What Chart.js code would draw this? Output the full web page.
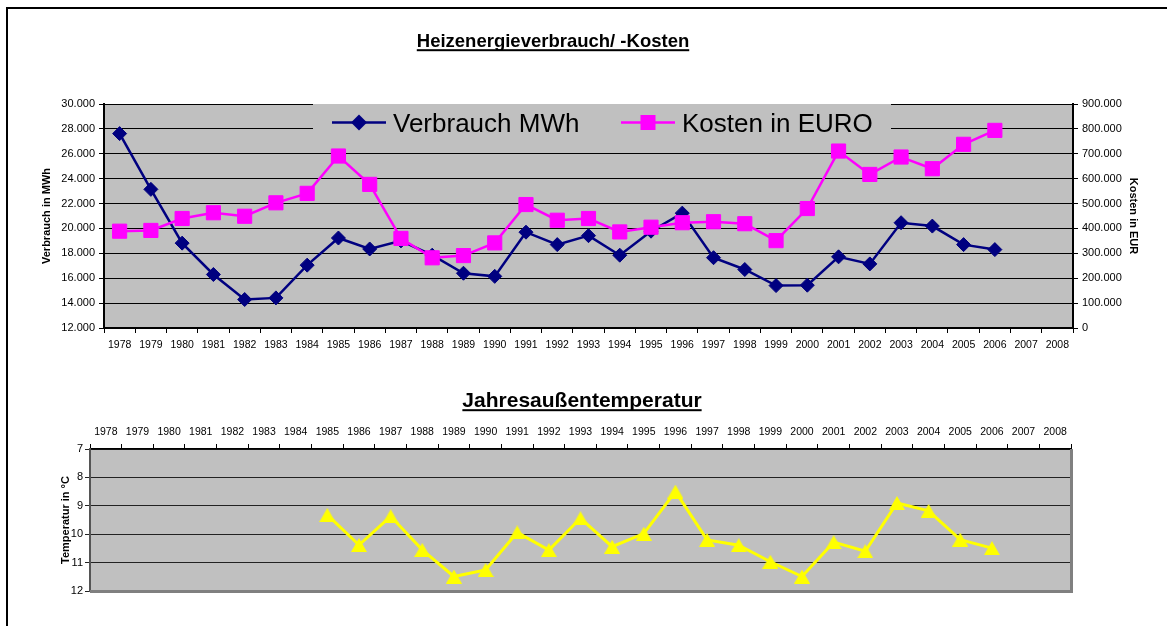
<!DOCTYPE html>
<html>
<head>
<meta charset="utf-8">
<script src="https://cdn.jsdelivr.net/npm/chart.js@4.4.1/dist/chart.umd.min.js"></script>
<style>
  html, body { margin: 0; padding: 0; background: #fff; }
  body { width: 1167px; height: 626px; position: relative; overflow: hidden; }
  #frame { position: absolute; left: 6px; top: 7px; right: -10px; bottom: -10px;
           border-left: 2px solid #000; border-top: 2px solid #000; }
  canvas { position: absolute; left: 0; }
  #cTop { top: 0; }
  #cTemp { top: 365px; }
</style>
</head>
<body>
<div id="frame"></div>
<canvas id="cTop" width="1167" height="365"></canvas>
<canvas id="cTemp" width="1167" height="261"></canvas>
<script>
// Jahre (Kategorien)
const years = ['1978', '1979', '1980', '1981', '1982', '1983', '1984', '1985', '1986', '1987',
  '1988', '1989', '1990', '1991', '1992', '1993', '1994', '1995', '1996', '1997', '1998',
  '1999', '2000', '2001', '2002', '2003', '2004', '2005', '2006', '2007', '2008'];

// Verbrauch in MWh
const verbrauch = [27620, 23140, 18820, 16300, 14290, 14420, 17050, 19230, 18350, 19000,
  17850, 16400, 16150, 19700, 18700, 19420, 17850, 19780, 21230, 17650, 16700,
  15410, 15440, 17720, 17150, 20460, 20190, 18700, 18300, null, null];

// Kosten in EUR
const kosten = [389000, 392000, 440000, 463000, 449000, 503000, 541000, 691000, 577000, 360000,
  282000, 291000, 342000, 496000, 433000, 440000, 386000, 405000, 423000, 427000, 419000,
  351000, 480000, 711000, 617000, 687000, 640000, 738000, 794000, null, null];

// Jahresaussentemperatur in Grad C
const temperatur = [null, null, null, null, null, null, null, 9.32, 10.38, 9.37,
  10.55, 11.49, 11.26, 9.94, 10.56, 9.44, 10.44, 9.98, 8.5, 10.2, 10.39,
  10.97, 11.49, 10.28, 10.6, 8.9, 9.18, 10.19, 10.49, null, null];

const FONT = "'Liberation Sans', Arial, sans-serif";
const PLOT_BG = '#C0C0C0';
const NAVY = '#000080';
const MAGENTA = '#FF00FF';
const YELLOW = '#FFFF00';

Chart.defaults.font.family = FONT;
Chart.defaults.color = '#000';

// Tausenderpunkt wie im Original (30.000)
function fmt(v) {
  return String(v).replace(/\B(?=(\d{3})+(?!\d))/g, '.');
}

// grauer Hintergrund der Zeichenflaeche
const plotBg = {
  id: 'plotBg',
  beforeDraw(chart) {
    const { ctx, chartArea: a } = chart;
    ctx.save();
    ctx.fillStyle = PLOT_BG;
    ctx.fillRect(a.left, a.top, a.right - a.left, a.bottom - a.top);
    ctx.restore();
  }
};

// unterstrichener Titel
function underlinedTitle(text, cx, baseline, size) {
  return {
    id: 'ulTitle',
    afterDraw(chart) {
      const ctx = chart.ctx;
      ctx.save();
      ctx.font = 'bold ' + size + 'px ' + FONT;
      ctx.fillStyle = '#000';
      ctx.textAlign = 'center';
      ctx.textBaseline = 'alphabetic';
      ctx.fillText(text, cx, baseline);
      const w = ctx.measureText(text).width;
      ctx.fillRect(cx - w / 2, baseline + 2.5, w, 2);
      ctx.restore();
    }
  };
}

// Legende im Diagramm, verdeckt die Gitterlinien
const legendBox = {
  id: 'legendBox',
  beforeDatasetsDraw(chart) {
    const ctx = chart.ctx;
    ctx.save();
    ctx.fillStyle = PLOT_BG;
    ctx.fillRect(313, 104, 578, 42);
    const y = 122.5;
    const xs = [332, 621];
    chart.data.datasets.forEach((ds, i) => {
      const x = xs[i];
      ctx.strokeStyle = ds.borderColor;
      ctx.lineWidth = 2.5;
      ctx.beginPath();
      ctx.moveTo(x, y);
      ctx.lineTo(x + 54, y);
      ctx.stroke();
      ctx.fillStyle = ds.borderColor;
      const mx = x + 27;
      ctx.beginPath();
      if (ds.pointStyle === 'rectRot') {
        ctx.moveTo(mx - 8, y);
        ctx.lineTo(mx, y - 8);
        ctx.lineTo(mx + 8, y);
        ctx.lineTo(mx, y + 8);
      } else {
        ctx.rect(mx - 7.5, y - 7.5, 15, 15);
      }
      ctx.closePath();
      ctx.fill();
      ctx.fillStyle = '#000';
      ctx.font = '26px ' + FONT;
      ctx.textBaseline = 'alphabetic';
      ctx.fillText(ds.label, x + 61, y + 9.3);
    });
    ctx.restore();
  }
};

// grauer 3D-Rand unten und rechts
const grayBorder = {
  id: 'grayBorder',
  beforeDatasetsDraw(chart) {
    const { ctx, chartArea: a } = chart;
    ctx.save();
    ctx.strokeStyle = '#808080';
    ctx.lineWidth = 3;
    ctx.beginPath();
    ctx.moveTo(a.left, a.bottom + 0.5);
    ctx.lineTo(a.right + 0.5, a.bottom + 0.5);
    ctx.lineTo(a.right + 0.5, a.top);
    ctx.stroke();
    ctx.restore();
  }
};

function triangleMarker(w, h, color) {
  const c = document.createElement('canvas');
  c.width = w;
  c.height = h;
  const g = c.getContext('2d');
  g.fillStyle = color;
  g.beginPath();
  g.moveTo(w / 2, 0);
  g.lineTo(w, h);
  g.lineTo(0, h);
  g.closePath();
  g.fill();
  return c;
}

new Chart(document.getElementById('cTop'), {
  type: 'line',
  data: {
    labels: years,
    datasets: [
      {
        label: 'Verbrauch MWh', data: verbrauch, yAxisID: 'y', order: 1,
        borderColor: NAVY, backgroundColor: NAVY, borderWidth: 2.5,
        pointStyle: 'rectRot', pointRadius: 7, pointBorderWidth: 1, tension: 0
      },
      {
        label: 'Kosten in EURO', data: kosten, yAxisID: 'y1', order: 0,
        borderColor: MAGENTA, backgroundColor: MAGENTA, borderWidth: 2.5,
        pointStyle: 'rect', pointRadius: 10, pointBorderWidth: 1, tension: 0
      }
    ]
  },
  options: {
    responsive: false,
    animation: false,
    layout: { padding: { left: 40, right: 27, top: 104, bottom: 7 } },
    plugins: { legend: { display: false }, tooltip: { enabled: false } },
    scales: {
      x: {
        offset: true,
        grid: { offset: true, drawOnChartArea: false, color: '#000', tickLength: 5 },
        border: { color: '#000', width: 2 },
        ticks: { autoSkip: false, maxRotation: 0, padding: 6, font: { size: 10.5 } },
        afterFit: s => { s.height = 30; }
      },
      y: {
        position: 'left', min: 12000, max: 30000,
        ticks: { stepSize: 2000, callback: fmt, padding: 4, font: { size: 11 } },
        grid: { color: '#000', tickLength: 5 },
        border: { color: '#000', width: 2 },
        title: { display: true, text: 'Verbrauch in MWh', padding: 0, font: { size: 11, weight: 'bold' } },
        afterFit: s => { s.width = 64; }
      },
      y1: {
        position: 'right', min: 0, max: 900000,
        ticks: { stepSize: 100000, callback: fmt, padding: 4, font: { size: 11 } },
        grid: { drawOnChartArea: false, color: '#000', tickLength: 5 },
        border: { color: '#000', width: 2 },
        title: { display: true, text: 'Kosten in EUR', padding: 0, font: { size: 11, weight: 'bold' } },
        afterFit: s => { s.width = 67; }
      }
    }
  },
  plugins: [plotBg, legendBox, underlinedTitle('Heizenergieverbrauch/ -Kosten', 553, 46.7, 18.5)]
});

new Chart(document.getElementById('cTemp'), {
  type: 'line',
  data: {
    labels: years,
    datasets: [{
      label: 'Jahresaußentemperatur', data: temperatur,
      borderColor: YELLOW, backgroundColor: YELLOW, borderWidth: 3,
      pointStyle: triangleMarker(16, 14, YELLOW), tension: 0
    }]
  },
  options: {
    responsive: false,
    animation: false,
    layout: { padding: { left: 59, right: 96, top: 54, bottom: 35 } },
    plugins: { legend: { display: false }, tooltip: { enabled: false } },
    scales: {
      x: {
        position: 'top', offset: true,
        grid: { offset: true, drawOnChartArea: false, color: '#000', tickLength: 5 },
        border: { color: '#000', width: 1.5 },
        ticks: { autoSkip: false, maxRotation: 0, padding: 6, font: { size: 10.5 } },
        afterFit: s => { s.height = 30; }
      },
      y: {
        reverse: true, min: 7, max: 12,
        ticks: { stepSize: 1, padding: 2, font: { size: 11 } },
        grid: { color: '#222', tickLength: 5 },
        border: { color: '#555', width: 2 },
        title: { display: true, text: 'Temperatur in °C', padding: 0, font: { size: 11, weight: 'bold' } },
        afterFit: s => { s.width = 31; }
      }
    }
  },
  plugins: [plotBg, grayBorder, underlinedTitle('Jahresaußentemperatur', 582, 41.7, 21)]
});
</script>
</body>
</html>
